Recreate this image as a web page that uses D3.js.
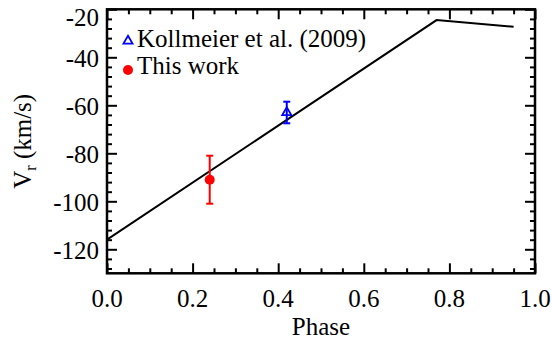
<!DOCTYPE html>
<html>
<head>
<meta charset="utf-8">
<script src="https://cdn.jsdelivr.net/npm/d3@7"></script>
<style>
  body { margin: 0; background: #fff; }
</style>
</head>
<body>
<div id="chart"></div>
<script>
// model curve
var linePhase = [0.0, 0.77, 0.95];
var lineVr = [-116, -24.5, -27.3];

// Kollmeier et al. (2009)
var kollPhase = [0.42];
var kollVr = [-63];
var kollErr = [4.5];

// this work
var workPhase = [0.24];
var workVr = [-91];
var workErr = [10];

var xMajor = [0, 0.2, 0.4, 0.6, 0.8, 1.0];
var xLabels = ["0.0", "0.2", "0.4", "0.6", "0.8", "1.0"];
var yMajor = [-120, -100, -80, -60, -40, -20];
var yLabels = ["-120", "-100", "-80", "-60", "-40", "-20"];

var FONT = "'Liberation Serif', 'DejaVu Serif', serif";

var W = 552, H = 341;
var margin = {top: 9.3, right: 17, bottom: 67.7, left: 107};
var width = W - margin.left - margin.right;
var height = H - margin.top - margin.bottom;

var svg = d3.select("#chart").append("svg")
    .attr("width", W)
    .attr("height", H)
    .style("font-family", FONT)
  .append("g")
    .attr("transform", "translate(" + margin.left + "," + margin.top + ")");

var x = d3.scaleLinear().domain([0, 1]).range([0, width]);
var y = d3.scaleLinear().domain([-130, -20]).range([height, 0]);

var xMinor = d3.range(0, 1.0001, 0.05).filter(function(v) {
    return Math.abs(v * 5 - Math.round(v * 5)) > 1e-6;
});
var yMinor = d3.range(-128, -20, 4).filter(function(v) { return v % 20 !== 0; });

function tickAxis(axisFn, scale, values, size, tr) {
    var g = svg.append("g")
        .attr("transform", tr)
        .call(axisFn(scale).tickValues(values).tickSize(size).tickFormat(""));
    g.select(".domain").remove();
    g.selectAll(".tick line").attr("stroke", "#000").attr("stroke-width", 2);
    return g;
}

// ticks pointing inward on all four sides
tickAxis(d3.axisBottom, x, xMinor, -5, "translate(0," + height + ")");
tickAxis(d3.axisBottom, x, xMajor, -10, "translate(0," + height + ")");
tickAxis(d3.axisTop, x, xMinor, -5, "translate(0,0)");
tickAxis(d3.axisTop, x, xMajor, -10, "translate(0,0)");
tickAxis(d3.axisLeft, y, yMinor, -5, "translate(0,0)");
tickAxis(d3.axisLeft, y, yMajor, -10, "translate(0,0)");
tickAxis(d3.axisRight, y, yMinor, -5, "translate(" + width + ",0)");
tickAxis(d3.axisRight, y, yMajor, -10, "translate(" + width + ",0)");

svg.append("rect")
    .attr("width", width)
    .attr("height", height)
    .attr("fill", "none")
    .attr("stroke", "#000")
    .attr("stroke-width", 2.5);

// tick labels
svg.selectAll(".xlab")
    .data(xMajor)
  .enter().append("text")
    .attr("class", "xlab")
    .attr("x", function(d) { return x(d); })
    .attr("y", height + 34)
    .attr("text-anchor", "middle")
    .attr("font-family", FONT)
    .attr("font-size", 25)
    .text(function(d, i) { return xLabels[i]; });

svg.selectAll(".ylab")
    .data(yMajor)
  .enter().append("text")
    .attr("class", "ylab")
    .attr("x", -8)
    .attr("y", function(d) { return Math.max(y(d) + 10, 17); })
    .attr("text-anchor", "end")
    .attr("font-family", FONT)
    .attr("font-size", 25)
    .text(function(d, i) { return yLabels[i]; });

// axis titles
svg.append("text")
    .attr("x", width / 2)
    .attr("y", height + 61.5)
    .attr("text-anchor", "middle")
    .attr("font-family", FONT)
    .attr("font-size", 25)
    .text("Phase");

var yt = svg.append("text")
    .attr("transform", "translate(" + (31 - margin.left) + "," + (height / 2) + ") rotate(-90)")
    .attr("text-anchor", "middle")
    .attr("font-family", FONT)
    .attr("font-size", 25);
yt.append("tspan").text("V");
yt.append("tspan").attr("dy", 5).attr("font-size", 16).text("r");
yt.append("tspan").attr("dy", -5).text(" (km/s)");

// model line
var line = d3.line()
    .x(function(d, i) { return x(linePhase[i]); })
    .y(function(d) { return y(d); });

svg.append("path")
    .datum(lineVr)
    .attr("d", line)
    .attr("fill", "none")
    .attr("stroke", "#000")
    .attr("stroke-width", 2);

function errBars(ph, vr, err, color) {
    ph.forEach(function(p, i) {
        var cx = x(p);
        var g = svg.append("g").attr("stroke", color).attr("stroke-width", 2);
        g.append("line")
            .attr("x1", cx).attr("x2", cx)
            .attr("y1", y(vr[i] + err[i])).attr("y2", y(vr[i] - err[i]));
        [vr[i] + err[i], vr[i] - err[i]].forEach(function(v) {
            g.append("line")
                .attr("x1", cx - 3.5).attr("x2", cx + 3.5)
                .attr("y1", y(v)).attr("y2", y(v));
        });
    });
}

var tri = d3.symbol().type(d3.symbolTriangle).size(36);

errBars(kollPhase, kollVr, kollErr, "#0000ff");
svg.selectAll(".koll")
    .data(kollVr)
  .enter().append("path")
    .attr("class", "koll")
    .attr("d", tri)
    .attr("transform", function(d, i) { return "translate(" + x(kollPhase[i]) + "," + y(d) + ")"; })
    .attr("fill", "none")
    .attr("stroke", "#0000ff")
    .attr("stroke-width", 1.8);

errBars(workPhase, workVr, workErr, "#ff0000");
svg.selectAll(".work")
    .data(workVr)
  .enter().append("circle")
    .attr("class", "work")
    .attr("cx", function(d, i) { return x(workPhase[i]); })
    .attr("cy", function(d) { return y(d); })
    .attr("r", 5)
    .attr("fill", "#ff0000");

// legend
var leg = svg.append("g").attr("transform", "translate(" + (128 - margin.left) + "," + (41 - margin.top) + ")");
leg.append("path")
    .attr("d", tri)
    .attr("fill", "none")
    .attr("stroke", "#0000ff")
    .attr("stroke-width", 1.8);
leg.append("text")
    .attr("x", 9)
    .attr("y", 5.5)
    .attr("font-family", FONT)
    .attr("font-size", 25)
    .text("Kollmeier et al. (2009)");
leg.append("circle")
    .attr("cy", 29)
    .attr("r", 5)
    .attr("fill", "#ff0000");
leg.append("text")
    .attr("x", 9)
    .attr("y", 33)
    .attr("font-family", FONT)
    .attr("font-size", 25)
    .text("This work");
</script>
</body>
</html>
